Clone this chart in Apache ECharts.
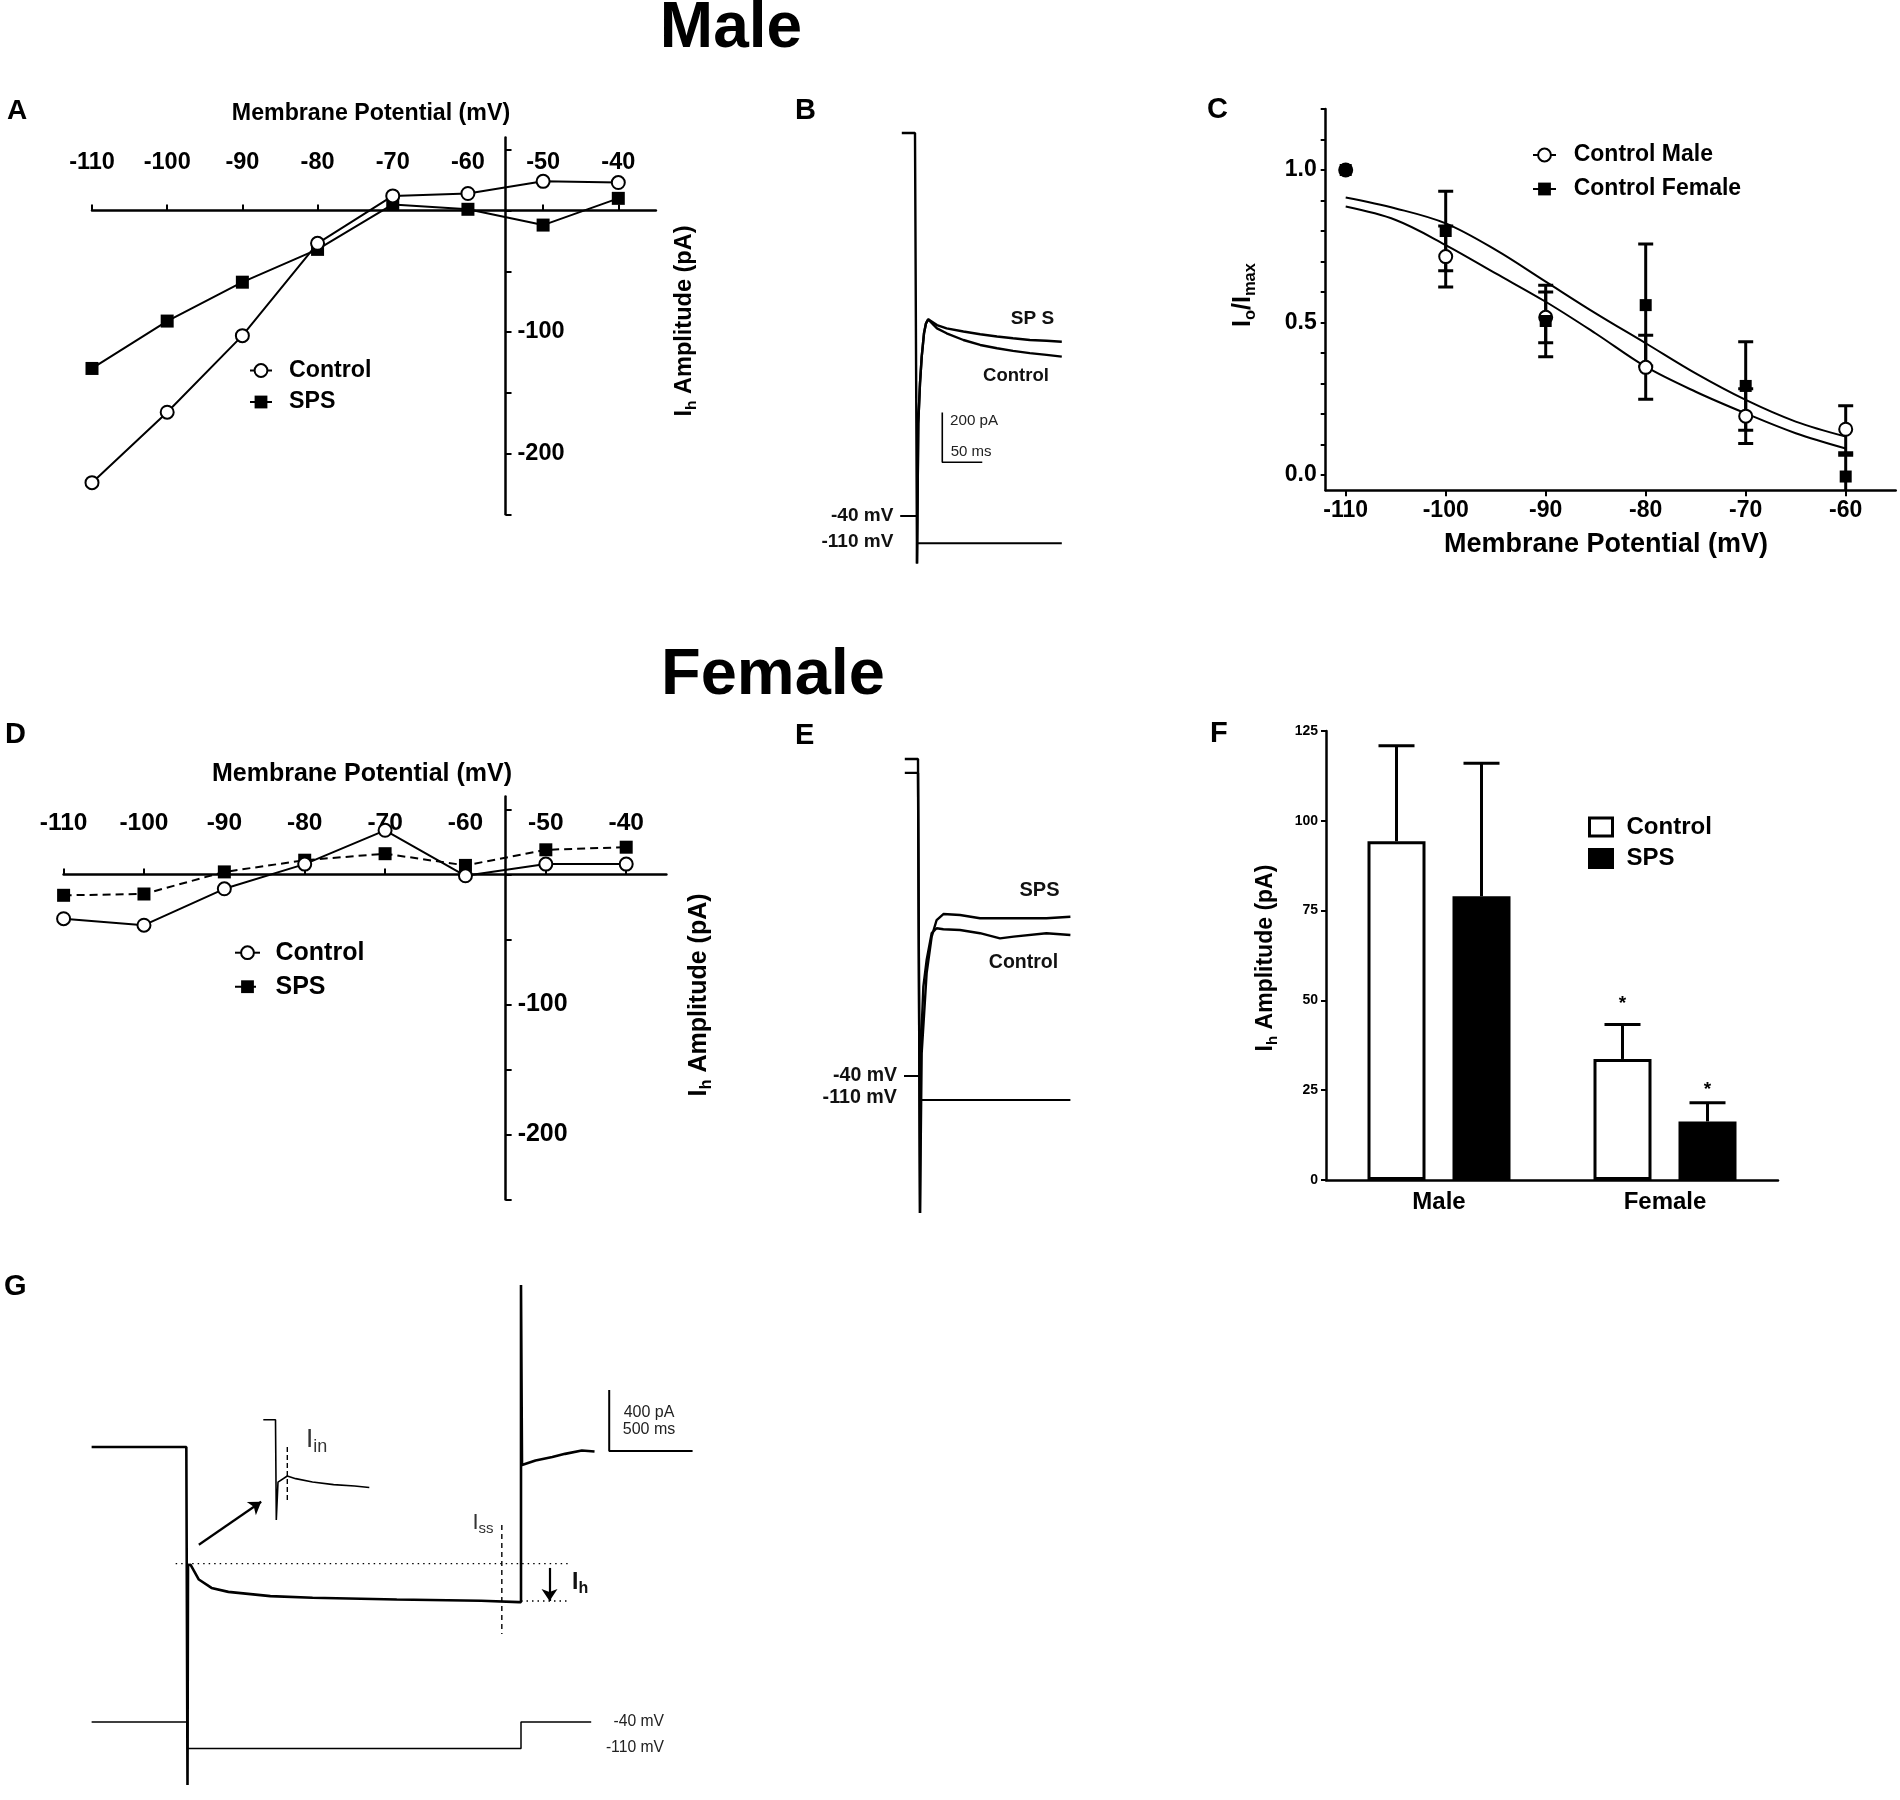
<!DOCTYPE html>
<html><head><meta charset="utf-8"><title>Ih recordings – Male / Female</title>
<script src="https://cdn.jsdelivr.net/npm/echarts@6.0.0/dist/echarts.min.js"></script>
<style>html,body{margin:0;padding:0;background:#fff;}#chart{width:1900px;height:1800px;}</style>
</head><body><div id="chart"></div>
<script>
// ================= DATA =================
// Panels A / D : I-V relations (pA vs mV)
const ivVoltages = [-110, -100, -90, -80, -70, -60, -50, -40];
const ivTicks = [-110, -100, -90, -80, -70, -60, -50, -40];
const ivCurrentTicks = [-250, -200, -150, -100, -50, 0, 50];
const ivCurrentLabels = [-200, -100];
const maleControlIh = [-224, -166, -103, -27, 12, 14, 24, 23];
const maleSpsIh = [-130, -91, -59, -32, 5, 1, -12, 10];
const femaleControlIh = [-34, -39, -11, 8, 34, -1, 8, 8];
const femaleSpsIh = [-16, -15, 2, 11, 16, 7, 19, 21];

// Panel C : activation curves (Io/Imax)
const cVoltages = [-110, -100, -90, -80, -70, -60];
const cMaleMean = [1.0, 0.716, 0.517, 0.353, 0.193, 0.15];
const cMaleSem = [0, 0.10, 0.083, 0.105, 0.09, 0.077];
const cFemaleMean = [1.0, 0.80, 0.505, 0.557, 0.292, -0.005];
const cFemaleSem = [0, 0.13, 0.117, 0.20, 0.145, 0.07];
const cFitVoltages = [-110, -105, -100, -95, -90, -85, -80, -75, -70, -65, -60];
const cFitMale = [0.880, 0.836, 0.754, 0.661, 0.568, 0.464, 0.355, 0.273, 0.202, 0.137, 0.087];
const cFitFemale = [0.910, 0.874, 0.825, 0.738, 0.634, 0.530, 0.432, 0.333, 0.246, 0.175, 0.126];
const cTicksX = [-110, -100, -90, -80, -70, -60];
const cTicksY = [0, 0.1, 0.2, 0.3, 0.4, 0.5, 0.6, 0.7, 0.8, 0.9, 1.0, 1.1, 1.2];
const cLabelsY = [0, 0.5, 1.0];

// Panel F : Ih amplitude bars (pA)
const fGroups = ['Male', 'Female'];
const fControlMean = [94.3, 33.7];
const fControlSem = [26.6, 9.6];
const fSpsMean = [79.0, 16.3];
const fSpsSem = [37.0, 5.2];
const fControlStar = [null, 50.2];
const fSpsStar = [null, 26.2];

// Panel B : example traces (ms, pA, mV)
const bSpsTime = [-19, -2.5, 0, 0, 1.6, 3.75, 5.9, 8.75, 11.25, 14, 25, 37, 58, 79, 100, 120, 141, 162, 181];
const bSpsCurrent = [0, 0, 0, -1732, -1168, -1007, -900, -806, -766, -750, -773, -786, -799, -810, -819, -826, -833, -836, -840];
const bControlTime = [0, 1.6, 3.75, 5.9, 8.75, 11.25, 14, 25, 37, 58, 79, 100, 120, 141, 162, 181];
const bControlCurrent = [-1732, -1168, -1007, -900, -806, -766, -750, -786, -806, -833, -853, -866, -877, -886, -893, -900];
const bVoltTime = [-21, 0, 0, 181];
const bVolt = [-40, -40, -110, -110];
const bScaleCorner = [31.6, -1325];
const bScaleAmpPa = 200;
const bScaleDurMs = 50;

// Panel E : example traces (ms, pA, mV)
const eSpsTime = [-19, -2.5, 0, 0, 2.1, 8.3, 14.6, 20.8, 29.2, 50, 75, 117, 158, 188];
const eSpsCurrent = [0, 0, 0, -1827, -1184, -862, -715, -648, -624, -628, -641, -641, -641, -635];
const eControlTime = [-19, -2.5, 0, 0, 0.8, 4.2, 8.3, 14.6, 20.8, 29.2, 50, 75, 100, 117, 158, 188];
const eControlCurrent = [-56, -56, -56, -1827, -1184, -916, -809, -701, -681, -685, -688, -701, -722, -715, -701, -708];
const eVoltTime = [-20, 0, 0, 188];
const eVolt = [-40, -40, -110, -110];

// Panel G : protocol illustration (ms, pA, mV)
const gTime = [-575, -300, -7, 0, 0, 3, 18, 68, 144, 245, 497, 750, 1255, 1760, 1987, 2000, 2000, 2006, 2011, 2087, 2188, 2264, 2365, 2441];
const gCurrent = [0, 0, 0, 0, -2216, -774, -772, -869, -924, -950, -978, -989, -1000, -1008, -1017, -1017, 1062, -118, -131, -88, -66, -45, -23, -30];
const gVoltTime = [-575, 0, 0, 2000, 2000, 2421];
const gVolt = [-40, -40, -110, -110, -40, -40];
const gInsetTime = [-6.5, -0.4, 0, 0, 0.85, 5.5, 9.7, 18.1, 28.65, 39.15, 46.5];
const gInsetCurrent = [0, 0, 0, -1384, -860, -777, -813, -860, -896, -915, -936];
const gInsetMarkMs = 5.5;
const gInsetMarkPa = [-377, -1150];
const gPeakLevelPa = -765;
const gPeakSpanMs = [-71, 2290];
const gSteadyLevelPa = -1010;
const gSteadySpanMs = [2000, 2290];
const gIssTimeMs = 1885;
const gIssSpanPa = [-511, -1227];
const gIhArrowMs = 2171;
const gIhArrowPa = [-793, -1010];
const gInsetArrowMs = [68, 442];
const gInsetArrowPa = [-641, -359];
const gScaleCorner = [2529, -27];
const gScaleAmpPa = 400;
const gScaleDurMs = 500;

// ================= LAYOUT HELPERS =================
const FONT = '"Liberation Sans", Arial, Helvetica, sans-serif';
function pairs(xs, ys) { return xs.map((x, i) => [x, ys[i]]); }
// calibrate an axis from two pixel anchors -> pixel span of [vmin, vmax]
function fit(p0, v0, p1, v1, vmin, vmax) {
  const k = (p1 - p0) / (v1 - v0);
  const a = p0 + (vmin - v0) * k, b = p0 + (vmax - v0) * k;
  return { start: Math.min(a, b), size: Math.abs(b - a), px: v => p0 + (v - v0) * k };
}
function box(fx, fy) {
  return { left: fx.start, top: fy.start, width: fx.size, height: fy.size, containLabel: false, outerBoundsMode: 'none' };
}
const axLine = { show: true, onZero: false, lineStyle: { color: '#000', width: 2.5 } };
const axTick = (vals, len) => ({ show: true, length: len || 6, customValues: vals, lineStyle: { color: '#000', width: 2 } });
const axLab = (vals, size, margin, fmt) => ({ show: true, customValues: vals, color: '#000', fontFamily: FONT, fontWeight: 'bold', fontSize: size, margin: margin, formatter: fmt });
function hidden(gridIndex, min, max) {
  return { type: 'value', gridIndex, min, max, show: false, axisLine: { onZero: false }, splitLine: { show: false } };
}

// ---- grid calibrations ----
const fxA = fit(92, -110, 618.3, -40, -110, -35);
const fyA = fit(210.5, 0, 332, -100, -250, 60);
const gA = box(fxA, fyA);
const aAxisX = fxA.px(-55);
const gAaxis = { left: aAxisX - 1, width: 1, top: gA.top, height: gA.height, containLabel: false, outerBoundsMode: 'none' };
// tick labels sit ~36 px above the zero line; the library measures the margin from the grid edge
const aLabelMargin = 35.6 - (fyA.px(0) - gA.top);

const fxC = fit(1345.7, -110, 1845.7, -60, -112, -55);
const fyC = fit(475, 0, 170, 1.0, -0.05, 1.2);
const gC = box(fxC, fyC);

const fxD = fit(63.6, -110, 626.2, -40, -110, -35);
const fyD = fit(874.5, 0, 1004.5, -100, -250, 60);
const gD = box(fxD, fyD);
const dAxisX = fxD.px(-55);
const gDaxis = { left: dAxisX - 1, width: 1, top: gD.top, height: gD.height, containLabel: false, outerBoundsMode: 'none' };
const dLabelMargin = 39 - (fyD.px(0) - gD.top);

const fyF = fit(1180, 0, 731, 125, 0, 125);
const gF = { left: 1326, width: 452, top: fyF.start, height: fyF.size, containLabel: false, outerBoundsMode: 'none' };

const fxB = fit(917, 0, 957, 50, -25, 190);
const gB = box(fxB, fit(133, 0, 182.7, -200, -1800, 100));
const gBv = box(fxB, fit(516, -40, 543.3, -110, -160, 0));

const fxE = fit(920, 0, 960, 50, -25, 195);
const gE = box(fxE, fit(759, 0, 808.7, -200, -1850, 50));
const gEv = box(fxE, fit(1076, -40, 1100, -110, -160, 0));

const fxG = fit(187.5, 0, 521, 2000, -620, 3120);
const gG = box(fxG, fit(1447, 0, 1386, 400, -2250, 1100));
const gGv = box(fxG, fit(1722, -40, 1748.5, -110, -160, 0));
const gGi = box(fit(276.3, 0, 296.3, 10, -8, 48), fit(1419.7, 0, 1492.2, -1000, -1450, 50));

// ---- custom error bars ----
function errBars(capHalf, lw, dx, lowerCap, stars, starFont) {
  return function (params, api) {
    const x = api.value(0), lo = api.value(1), hi = api.value(2);
    const a = api.coord([x, lo]), b = api.coord([x, hi]);
    const st = { stroke: '#000', lineWidth: lw, fill: null };
    const X = a[0] + (dx || 0);
    const ch = [
      { type: 'line', shape: { x1: X, y1: a[1], x2: X, y2: b[1] }, style: st },
      { type: 'line', shape: { x1: X - capHalf, y1: b[1], x2: X + capHalf, y2: b[1] }, style: st }
    ];
    if (lowerCap) ch.push({ type: 'line', shape: { x1: X - capHalf, y1: a[1], x2: X + capHalf, y2: a[1] }, style: st });
    if (stars && stars[params.dataIndex] != null) {
      const s = api.coord([x, stars[params.dataIndex]]);
      ch.push({ type: 'text', x: X, y: s[1] + 4, style: { text: '*', font: starFont, fill: '#000', textAlign: 'center', textVerticalAlign: 'middle' } });
    }
    return { type: 'group', children: ch };
  };
}
const cErrMale = cVoltages.map((v, i) => [v, cMaleMean[i] - cMaleSem[i], cMaleMean[i] + cMaleSem[i]]).filter((d, i) => cMaleSem[i] > 0);
const cErrFemale = cVoltages.map((v, i) => [v, cFemaleMean[i] - cFemaleSem[i], cFemaleMean[i] + cFemaleSem[i]]).filter((d, i) => cFemaleSem[i] > 0);
const fBarWidth = 58, fBarGapPx = 27, fOffset = (fBarWidth + fBarGapPx) / 2;

// ---- text helpers ----
const mctx = document.createElement('canvas').getContext('2d');
function tw(s, font) { mctx.font = font; return mctx.measureText(s).width; }
function txt(text, x, y, size, o) {
  o = o || {};
  return { type: 'text', x, y, silent: true, z: 100,
    style: { text, font: (o.weight || 'bold') + ' ' + size + 'px ' + FONT, fill: o.color || '#000', textAlign: o.align || 'center', textVerticalAlign: 'middle' } };
}
function subText(parts, x, y, o) {
  o = o || {};
  const weight = o.weight || 'bold';
  const fonts = parts.map(p => weight + ' ' + p[1] + 'px ' + FONT);
  const ws = parts.map((p, i) => tw(p[0], fonts[i]));
  const total = ws.reduce((a, b) => a + b, 0);
  let cx = o.align === 'left' ? 0 : -total / 2;
  const children = parts.map((p, i) => {
    const el = { type: 'text', x: cx, y: p[2] || 0, silent: true,
      style: { text: p[0], font: fonts[i], fill: o.color || '#000', textAlign: 'left', textVerticalAlign: 'middle' } };
    cx += ws[i];
    return el;
  });
  return { type: 'group', x, y, rotation: o.rotation || 0, silent: true, z: 100, children };
}
const legendFmt = n => n.replace(/^[A-Z]-/, '');
function legendOpt(names, left, top, size, lineH, gap, iw, ih, padL, extra) {
  return Object.assign({
    show: true, orient: 'vertical', left, top, padding: 0, itemGap: gap, itemWidth: iw, itemHeight: ih,
    selectedMode: false, data: names, formatter: legendFmt,
    textStyle: { fontFamily: FONT, fontWeight: 'bold', fontSize: size, color: '#000', lineHeight: lineH, padding: [0, 0, 0, padL] }
  }, extra || {});
}
const traceLine = w => ({ color: '#000', width: w, type: 'solid' });
function trace(name, xi, data, w, extra) {
  return Object.assign({ type: 'line', name, xAxisIndex: xi, yAxisIndex: xi, data, symbol: 'none', showSymbol: false,
    lineStyle: traceLine(w), clip: false, silent: true, z: 2 }, extra || {});
}

// ================= OPTION =================
const option = {
  animation: false,
  backgroundColor: '#fff',
  textStyle: { fontFamily: FONT },
  grid: [gA, gAaxis, gC, gD, gDaxis, gF, gB, gBv, gE, gEv, gG, gGv, gGi],
  xAxis: [
    { type: 'value', gridIndex: 0, min: -110, max: -35, position: 'top',
      axisLine: { show: true, onZero: true, lineStyle: { color: '#000', width: 2.5 } },
      axisTick: axTick(ivTicks, 6), axisLabel: axLab(ivTicks, 23.5, aLabelMargin), splitLine: { show: false } },
    hidden(1, 0, 1),
    { type: 'value', gridIndex: 2, min: -112, max: -55, position: 'bottom', axisLine: axLine,
      axisTick: axTick(cTicksX, 6), axisLabel: axLab(cTicksX, 23, 9), splitLine: { show: false } },
    { type: 'value', gridIndex: 3, min: -110, max: -35, position: 'top',
      axisLine: { show: true, onZero: true, lineStyle: { color: '#000', width: 2.5 } },
      axisTick: axTick(ivTicks, 6), axisLabel: axLab(ivTicks, 24.5, dLabelMargin), splitLine: { show: false } },
    hidden(4, 0, 1),
    { type: 'category', gridIndex: 5, data: fGroups, position: 'bottom', axisLine: axLine,
      axisTick: { show: false }, axisLabel: { color: '#000', fontFamily: FONT, fontWeight: 'bold', fontSize: 24, margin: 10 }, splitLine: { show: false } },
    hidden(6, -25, 190), hidden(7, -25, 190),
    hidden(8, -25, 195), hidden(9, -25, 195),
    hidden(10, -620, 3120), hidden(11, -620, 3120),
    hidden(12, -8, 48)
  ],
  yAxis: [
    hidden(0, -250, 60),
    { type: 'value', gridIndex: 1, min: -250, max: 60, position: 'right', axisLine: axLine,
      axisTick: axTick(ivCurrentTicks, 6), axisLabel: axLab(ivCurrentLabels, 23.5, 12), splitLine: { show: false } },
    { type: 'value', gridIndex: 2, min: -0.05, max: 1.2, position: 'left', axisLine: axLine,
      axisTick: axTick(cTicksY, 5), axisLabel: axLab(cLabelsY, 23, 9, v => Number(v).toFixed(1)), splitLine: { show: false } },
    hidden(3, -250, 60),
    { type: 'value', gridIndex: 4, min: -250, max: 60, position: 'right', axisLine: axLine,
      axisTick: axTick(ivCurrentTicks, 6), axisLabel: axLab(ivCurrentLabels, 25, 12), splitLine: { show: false } },
    { type: 'value', gridIndex: 5, min: 0, max: 125, interval: 25, position: 'left', axisLine: axLine,
      axisTick: { show: true, length: 5, lineStyle: { color: '#000', width: 2 } },
      axisLabel: { color: '#000', fontFamily: FONT, fontWeight: 'bold', fontSize: 14, margin: 8 }, splitLine: { show: false } },
    hidden(6, -1800, 100), hidden(7, -160, 0),
    hidden(8, -1850, 50), hidden(9, -160, 0),
    hidden(10, -2250, 1100), hidden(11, -160, 0),
    hidden(12, -1450, 50)
  ],
  legend: [
    legendOpt(['A-Control', 'A-SPS'], 249, 358.5, 23.2, 24, 7.5, 22, 16, 12),
    legendOpt(['D-Control', 'D-SPS'], 234, 939.7, 25, 26, 8, 25, 16, 10.5),
    legendOpt(['Control Male', 'Control Female'], 1532, 143, 23, 24, 10, 23, 16, 12.7,
      { lineStyle: { color: '#000', width: 2, opacity: 1, type: 'solid' } }),
    legendOpt([
      { name: 'F-Control', icon: 'rect', itemStyle: { color: '#fff', borderColor: '#000', borderWidth: 3 } },
      { name: 'F-SPS', icon: 'rect', itemStyle: { color: '#000', borderColor: '#000', borderWidth: 3 } }
    ], 1588, 814.5, 24, 25, 6.5, 23, 18, 9)
  ],
  series: [
    // ---- A ----
    { type: 'line', name: 'A-SPS', xAxisIndex: 0, yAxisIndex: 0, data: pairs(ivVoltages, maleSpsIh),
      symbol: 'rect', symbolSize: 13, lineStyle: { color: '#000', width: 2 }, itemStyle: { color: '#000' }, silent: true, z: 3 },
    { type: 'line', name: 'A-Control', xAxisIndex: 0, yAxisIndex: 0, data: pairs(ivVoltages, maleControlIh),
      symbol: 'emptyCircle', symbolSize: 13, lineStyle: { color: '#000', width: 2 }, itemStyle: { color: '#000', borderWidth: 2 }, silent: true, z: 4 },
    // ---- C ----
    { type: 'line', name: 'C-fitFemale', xAxisIndex: 2, yAxisIndex: 2, data: pairs(cFitVoltages, cFitFemale),
      symbol: 'none', showSymbol: false, smooth: 0.35, lineStyle: { color: '#000', width: 2 }, silent: true, z: 2 },
    { type: 'line', name: 'C-fitMale', xAxisIndex: 2, yAxisIndex: 2, data: pairs(cFitVoltages, cFitMale),
      symbol: 'none', showSymbol: false, smooth: 0.35, lineStyle: { color: '#000', width: 2 }, silent: true, z: 2 },
    { type: 'custom', name: 'C-errMale', xAxisIndex: 2, yAxisIndex: 2, data: cErrMale, encode: { x: 0, y: [1, 2] },
      renderItem: errBars(7.5, 3, 0, true), clip: true, silent: true, z: 3 },
    { type: 'custom', name: 'C-errFemale', xAxisIndex: 2, yAxisIndex: 2, data: cErrFemale, encode: { x: 0, y: [1, 2] },
      renderItem: errBars(7.5, 3, 0, true), clip: true, silent: true, z: 3 },
    { type: 'line', name: 'Control Male', xAxisIndex: 2, yAxisIndex: 2, data: pairs(cVoltages, cMaleMean),
      symbol: 'emptyCircle', symbolSize: 13, lineStyle: { color: '#000', width: 2, opacity: 0 }, itemStyle: { color: '#000', borderWidth: 2.5 }, silent: true, z: 4 },
    { type: 'line', name: 'Control Female', xAxisIndex: 2, yAxisIndex: 2, data: pairs(cVoltages, cFemaleMean),
      symbol: 'rect', symbolSize: 12, lineStyle: { color: '#000', width: 2, opacity: 0 }, itemStyle: { color: '#000' }, silent: true, z: 5 },
    // ---- D ----
    { type: 'line', name: 'D-SPS', xAxisIndex: 3, yAxisIndex: 3, data: pairs(ivVoltages, femaleSpsIh),
      symbol: 'rect', symbolSize: 13, lineStyle: { color: '#000', width: 2, type: [8, 5] }, itemStyle: { color: '#000' }, silent: true, z: 3 },
    { type: 'line', name: 'D-Control', xAxisIndex: 3, yAxisIndex: 3, data: pairs(ivVoltages, femaleControlIh),
      symbol: 'emptyCircle', symbolSize: 13, lineStyle: { color: '#000', width: 2 }, itemStyle: { color: '#000', borderWidth: 2 }, silent: true, z: 4 },
    // ---- F ----
    { type: 'bar', name: 'F-Control', xAxisIndex: 5, yAxisIndex: 5, data: fControlMean, barWidth: fBarWidth,
      barGap: (fBarGapPx / fBarWidth * 100) + '%', itemStyle: { color: '#fff', borderColor: '#000', borderWidth: 3 }, silent: true, z: 2 },
    { type: 'bar', name: 'F-SPS', xAxisIndex: 5, yAxisIndex: 5, data: fSpsMean, barWidth: fBarWidth,
      itemStyle: { color: '#000', borderColor: '#000', borderWidth: 3 }, silent: true, z: 2 },
    { type: 'custom', name: 'F-errControl', xAxisIndex: 5, yAxisIndex: 5,
      data: fControlMean.map((m, i) => [i, m, m + fControlSem[i]]), encode: { x: 0, y: [1, 2] },
      renderItem: errBars(18, 3, -fOffset, false, fControlStar, 'bold 19px ' + FONT), clip: false, silent: true, z: 3 },
    { type: 'custom', name: 'F-errSps', xAxisIndex: 5, yAxisIndex: 5,
      data: fSpsMean.map((m, i) => [i, m, m + fSpsSem[i]]), encode: { x: 0, y: [1, 2] },
      renderItem: errBars(18, 3, fOffset, false, fSpsStar, 'bold 19px ' + FONT), clip: false, silent: true, z: 3 },
    // ---- B ----
    trace('B-SPS', 6, pairs(bSpsTime, bSpsCurrent), 2.4),
    trace('B-Control', 6, pairs(bControlTime, bControlCurrent), 2.4),
    trace('B-scale', 6, [[bScaleCorner[0], bScaleCorner[1] + bScaleAmpPa], bScaleCorner, [bScaleCorner[0] + bScaleDurMs, bScaleCorner[1]]], 1.6),
    trace('B-volt', 7, pairs(bVoltTime, bVolt), 2),
    // ---- E ----
    trace('E-SPS', 8, pairs(eSpsTime, eSpsCurrent), 2.4),
    trace('E-Control', 8, pairs(eControlTime, eControlCurrent), 2.4),
    trace('E-volt', 9, pairs(eVoltTime, eVolt), 2),
    // ---- G ----
    trace('G-trace', 10, pairs(gTime, gCurrent), 2.6),
    trace('G-volt', 11, pairs(gVoltTime, gVolt), 1.5),
    trace('G-inset', 12, pairs(gInsetTime, gInsetCurrent), 1.6),
    trace('G-insetMark', 12, [[gInsetMarkMs, gInsetMarkPa[0]], [gInsetMarkMs, gInsetMarkPa[1]]], 1.4, { lineStyle: { color: '#000', width: 1.4, type: [5, 3] } }),
    trace('G-steady', 10, [[gSteadySpanMs[0], gSteadyLevelPa], [gSteadySpanMs[1], gSteadyLevelPa]], 1.4, { lineStyle: { color: '#000', width: 1.4, type: [1.5, 4] } }),
    trace('G-iss', 10, [[gIssTimeMs, gIssSpanPa[0]], [gIssTimeMs, gIssSpanPa[1]]], 1.4, { lineStyle: { color: '#000', width: 1.4, type: [5, 4] } }),
    trace('G-scale', 10, [[gScaleCorner[0], gScaleCorner[1] + gScaleAmpPa], gScaleCorner, [gScaleCorner[0] + gScaleDurMs, gScaleCorner[1]]], 2),
    trace('G-peak', 10, [[gPeakSpanMs[0], gPeakLevelPa], [gPeakSpanMs[1], gPeakLevelPa]], 1.4, {
      lineStyle: { color: '#000', width: 1.4, type: [1.5, 4] },
      markLine: {
        silent: true, animation: false, symbol: ['none', 'arrow'], symbolSize: 12,
        label: { show: false }, lineStyle: { color: '#000', width: 2.2, type: 'solid' },
        emphasis: { disabled: true },
        data: [
          [{ coord: [gInsetArrowMs[0], gInsetArrowPa[0]] }, { coord: [gInsetArrowMs[1], gInsetArrowPa[1]] }],
          [{ coord: [gIhArrowMs, gIhArrowPa[0]] }, { coord: [gIhArrowMs, gIhArrowPa[1]] }]
        ]
      }
    })
  ],
  graphic: { elements: [
    txt('Male', 731, 29, 64),
    txt('Female', 773, 676, 65),
    txt('A', 7, 111, 28, { align: 'left' }),
    txt('B', 795, 111, 29, { align: 'left' }),
    txt('C', 1207, 110, 29, { align: 'left' }),
    txt('D', 5, 735, 29, { align: 'left' }),
    txt('E', 795, 736, 29, { align: 'left' }),
    txt('F', 1210, 734, 29, { align: 'left' }),
    txt('G', 4, 1287, 29, { align: 'left' }),
    // axis titles
    txt('Membrane Potential (mV)', 371, 114, 23.2),
    txt('Membrane Potential (mV)', 362, 774, 25),
    txt('Membrane Potential (mV)', 1606, 545, 27),
    subText([['I', 23.5, 0], ['h', 15.5, 7], [' Amplitude (pA)', 23.5, 0]], 685, 321, { rotation: Math.PI / 2 }),
    subText([['I', 25, 0], ['h', 16.5, 7.5], [' Amplitude (pA)', 25, 0]], 699, 995, { rotation: Math.PI / 2 }),
    subText([['I', 25, 0], ['o', 16.5, 7.5], ['/I', 25, 0], ['max', 16.5, 7.5]], 1243, 295, { rotation: Math.PI / 2 }),
    subText([['I', 23, 0], ['h', 15, 7], [' Amplitude (pA)', 23, 0]], 1266, 958, { rotation: Math.PI / 2 }),
    // panel B labels
    txt('SP S', 1032.5, 319, 19, { color: '#111' }),
    txt('Control', 1016, 375.5, 18.5, { color: '#111' }),
    txt('200 pA', 950, 421, 15.2, { align: 'left', weight: 'normal', color: '#222' }),
    txt('50 ms', 950.7, 451.5, 15, { align: 'left', weight: 'normal', color: '#222' }),
    txt('-40 mV', 893.3, 515.5, 19, { align: 'right', color: '#111' }),
    txt('-110 mV', 893.3, 541.7, 19, { align: 'right', color: '#111' }),
    // panel E labels
    txt('SPS', 1039.5, 890, 20, { color: '#111' }),
    txt('Control', 1023.5, 962.5, 19.5, { color: '#111' }),
    txt('-40 mV', 897, 1076, 19.5, { align: 'right', color: '#111' }),
    txt('-110 mV', 897, 1098, 19.7, { align: 'right', color: '#111' }),
    // panel G labels
    txt('400 pA', 649, 1413, 16, { weight: 'normal', color: '#222' }),
    txt('500 ms', 649, 1430, 16, { weight: 'normal', color: '#222' }),
    txt('-40 mV', 664, 1722, 15.7, { align: 'right', weight: 'normal', color: '#222' }),
    txt('-110 mV', 664, 1748, 15.7, { align: 'right', weight: 'normal', color: '#222' }),
    subText([['I', 26, 0], ['in', 18, 7]], 306, 1440, { align: 'left', weight: 'normal', color: '#333' }),
    subText([['I', 22, 0], ['ss', 15, 6]], 472.5, 1523, { align: 'left', weight: 'normal', color: '#333' }),
    subText([['I', 23, 0], ['h', 16, 6]], 572, 1583, { align: 'left', weight: 'bold', color: '#111' })
  ] }
};

const chart = echarts.init(document.getElementById('chart'), null, { renderer: 'canvas', width: 1900, height: 1800 });
chart.setOption(option);
</script>
</body></html>
